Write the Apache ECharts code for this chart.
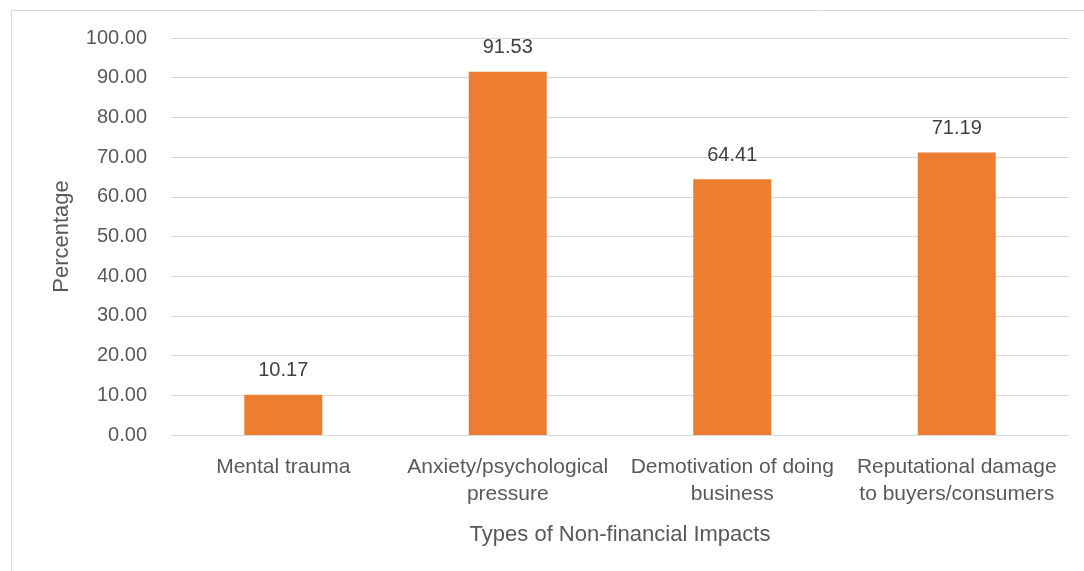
<!DOCTYPE html>
<html>
<head>
<meta charset="utf-8">
<script src="https://cdn.jsdelivr.net/npm/echarts@6/dist/echarts.min.js"></script>
<style>
  html, body { margin: 0; padding: 0; background: #ffffff; }
  #chart { width: 1084px; height: 571px; }
</style>
</head>
<body>
<div id="chart"></div>
<script>
const categories = [
  "Mental trauma",
  "Anxiety/psychological\npressure",
  "Demotivation of doing\nbusiness",
  "Reputational damage\nto buyers/consumers"
];
const percentages = [10.17, 91.53, 64.41, 71.19];
const yTicks = { min: 0, max: 100, interval: 10 };
const xTitle = "Types of Non-financial Impacts";
const yTitle = "Percentage";

const FONT = "Liberation Sans";
const chart = echarts.init(document.getElementById('chart'), null, { renderer: 'canvas' });
chart.setOption({
  backgroundColor: '#ffffff',
  animation: false,
  textStyle: { fontFamily: FONT },
  graphic: [{
    type: 'rect',
    shape: { x: 11.5, y: 10.5, width: 1200, height: 700 },
    style: { fill: 'none', stroke: '#d9d9d9', lineWidth: 1 },
    silent: true
  }],
  grid: { left: 171, right: 15, top: 38, bottom: 136, containLabel: false },
  xAxis: {
    type: 'category',
    data: categories,
    name: xTitle,
    nameLocation: 'middle',
    nameGap: 89,
    nameTextStyle: { fontFamily: FONT, fontSize: 22, color: '#595959' },
    axisLine: { show: true, lineStyle: { color: '#d9d9d9', width: 1 } },
    axisTick: { show: false },
    axisLabel: { fontFamily: FONT, fontSize: 21, color: '#595959', margin: 19, lineHeight: 27, interval: 0 }
  },
  yAxis: {
    type: 'value',
    min: yTicks.min,
    max: yTicks.max,
    interval: yTicks.interval,
    name: yTitle,
    nameLocation: 'middle',
    nameGap: 98,
    nameRotate: 90,
    nameTextStyle: { fontFamily: FONT, fontSize: 22, color: '#595959' },
    axisLine: { show: false },
    axisTick: { show: false },
    splitLine: { show: true, lineStyle: { color: '#d9d9d9', width: 1 } },
    axisLabel: {
      fontFamily: FONT, fontSize: 20, color: '#595959', margin: 24,
      formatter: v => v.toFixed(2)
    }
  },
  series: [{
    type: 'bar',
    data: percentages,
    barWidth: 78,
    itemStyle: { color: '#ED7D31' },
    label: {
      show: true,
      position: 'top',
      distance: 14,
      fontFamily: FONT,
      fontSize: 20,
      color: '#404040',
      formatter: p => p.value.toFixed(2)
    }
  }]
});
</script>
</body>
</html>
